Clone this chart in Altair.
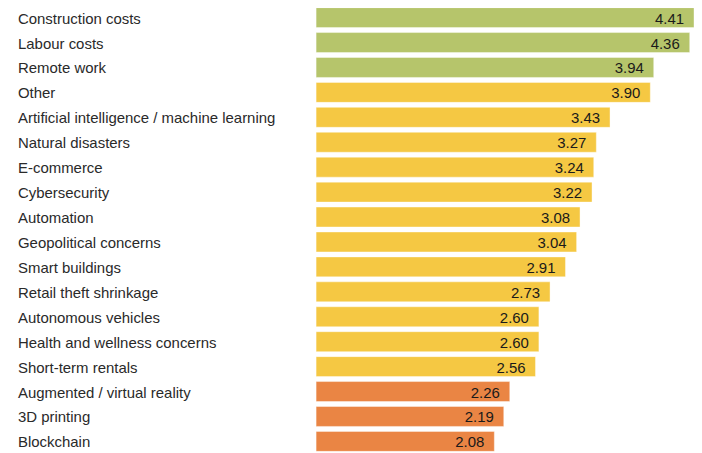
import altair as alt
import pandas as pd

categories = [
    "Construction costs", "Labour costs", "Remote work", "Other",
    "Artificial intelligence / machine learning", "Natural disasters",
    "E-commerce", "Cybersecurity", "Automation", "Geopolitical concerns",
    "Smart buildings", "Retail theft shrinkage", "Autonomous vehicles",
    "Health and wellness concerns", "Short-term rentals",
    "Augmented / virtual reality", "3D printing", "Blockchain",
]
values = [4.41, 4.36, 3.94, 3.90, 3.43, 3.27, 3.24, 3.22, 3.08, 3.04,
          2.91, 2.73, 2.60, 2.60, 2.56, 2.26, 2.19, 2.08]
groups = ["high"] * 3 + ["mid"] * 12 + ["low"] * 3

group_names = ["high", "mid", "low"]
group_colors = ["#b6c56b", "#f5c843", "#ea8544"]

df = pd.DataFrame({"category": categories, "value": values, "group": groups})

FONT = "Liberation Sans"

base = alt.Chart(df).encode(
    y=alt.Y("category:N", sort=categories, axis=None,
            scale=alt.Scale(paddingInner=0.2, paddingOuter=0)),
)

bars = base.mark_bar(yOffset=-1, stroke="#ffffff", strokeWidth=0.8, strokeOpacity=0.5).encode(
    x=alt.X("value:Q", axis=None, scale=alt.Scale(domain=[0, 4.41], nice=False, zero=True)),
    color=alt.Color("group:N", legend=None,
                    scale=alt.Scale(domain=group_names, range=group_colors)),
)

vals = base.mark_text(align="right", baseline="middle", dx=-10, yOffset=0,
                      fontSize=15, font=FONT, color="#1a1a1a").encode(
    x=alt.X("value:Q"),
    text=alt.Text("value:Q", format=".2f"),
)

labels = base.mark_text(align="left", baseline="middle", yOffset=0,
                        fontSize=15, font=FONT, color="#2a2a2a").encode(
    x=alt.value(-299),
    text="category:N",
)

chart = alt.layer(bars, vals, labels).properties(
    width=379, height=445,
    autosize=alt.AutoSizeParams(type="none"),
    padding={"left": 309, "top": 0, "right": 0, "bottom": 0},
).configure_view(stroke=None)

chart.save("out.html", embed_options={"renderer": "svg", "actions": False})
